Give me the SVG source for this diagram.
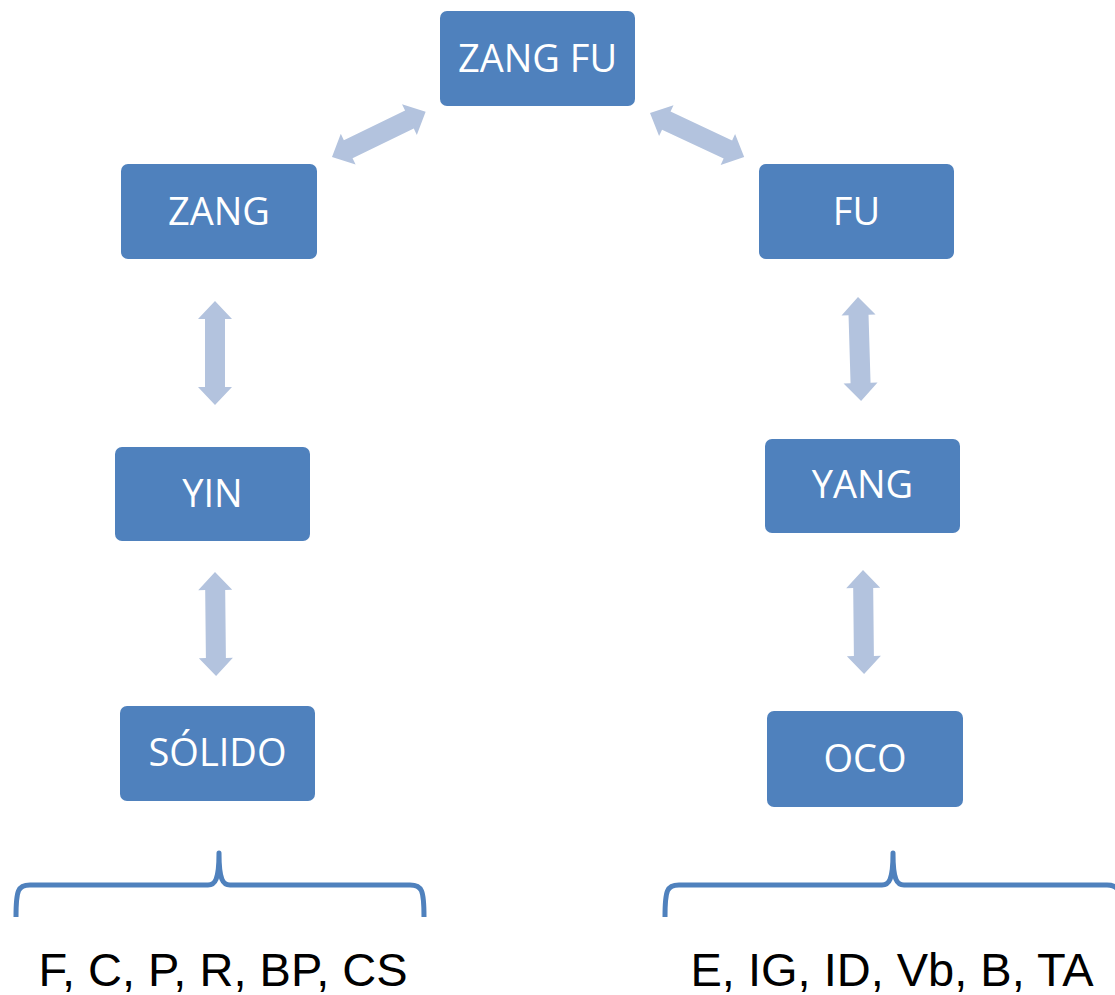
<svg xmlns="http://www.w3.org/2000/svg" xmlns:xlink="http://www.w3.org/1999/xlink" width="1115" height="995" viewBox="0 0 1115 995">
<style>
.box{fill:#4F81BD;}
.lbl{fill:#FFFFFF;font-family:"Open Sans","DejaVu Sans",sans-serif;font-size:38px;text-anchor:middle;}
.arr{fill:#B3C3DE;}
.brace{fill:none;stroke:#4F81BD;stroke-width:5;stroke-linejoin:round;}
.list{fill:#000000;font-family:"Liberation Sans",Arial,sans-serif;font-size:47px;text-anchor:middle;}
</style>
<defs>
<path id="dbl" d="M0,0 L18,-17 L18,-10 L86,-10 L86,-17 L104,0 L86,17 L86,10 L18,10 L18,17 Z"/>
</defs>
<rect width="1115" height="995" fill="#FFFFFF"/>
<g id="connectors" class="arr">
<use xlink:href="#dbl" href="#dbl" transform="translate(332,157) rotate(-25.8)"/>
<use xlink:href="#dbl" href="#dbl" transform="translate(650,113) rotate(25.1)"/>
<use xlink:href="#dbl" href="#dbl" transform="translate(215,301) rotate(90)"/>
<use xlink:href="#dbl" href="#dbl" transform="translate(215,572) rotate(89.4)"/>
<use xlink:href="#dbl" href="#dbl" transform="translate(858,297) rotate(88.3)"/>
<use xlink:href="#dbl" href="#dbl" transform="translate(863,570) rotate(89.4)"/>
</g>
<g id="zangfu"><rect class="box" x="440" y="11" width="195" height="95" rx="7"/><text class="lbl" x="537.5" y="72">ZANG FU</text></g>
<g id="zang"><rect class="box" x="121" y="164" width="196" height="95" rx="7"/><text class="lbl" x="219" y="225">ZANG</text></g>
<g id="fu"><rect class="box" x="759" y="164" width="195" height="95" rx="7"/><text class="lbl" x="856.5" y="225">FU</text></g>
<g id="yin"><rect class="box" x="115" y="447" width="195" height="94" rx="7"/><text class="lbl" x="212.5" y="507">YIN</text></g>
<g id="yang"><rect class="box" x="765" y="439" width="195" height="94" rx="7"/><text class="lbl" x="862.5" y="498">YANG</text></g>
<g id="solido"><rect class="box" x="120" y="706" width="195" height="95" rx="7"/><text class="lbl" x="217.5" y="766">SÓLIDO</text></g>
<g id="oco"><rect class="box" x="767" y="711" width="196" height="96" rx="7"/><text class="lbl" x="865" y="772">OCO</text></g>
<g id="brace-left">
<path class="brace" d="M16,917 C16,890 18,885 30,885 H208 C215,885 219,880 219,853 C219,880 223,885 230,885 H410 C422,885 424,890 424,917"/>
<text class="list" x="223" y="986">F, C, P, R, BP, CS</text>
</g>
<g id="brace-right">
<path class="brace" d="M665,917 C665,890 667,885 679,885 H882 C889,885 893,880 893,853 C893,880 897,885 904,885 H1107 C1119,885 1121,890 1121,917"/>
<text class="list" x="892" y="986">E, IG, ID, Vb, B, TA</text>
</g>
</svg>
